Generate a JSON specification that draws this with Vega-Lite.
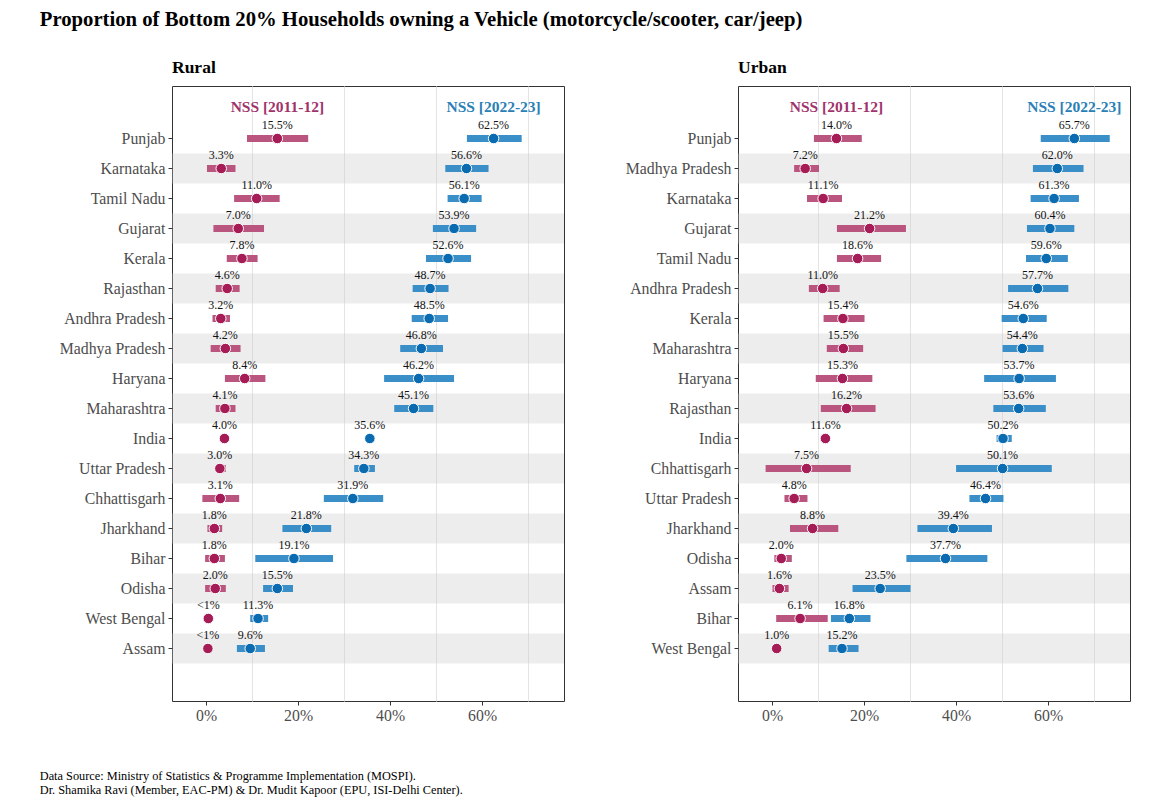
{
  "$schema": "https://vega.github.io/schema/vega-lite/v6.json",
  "padding": {"left": 39, "top": 9, "right": 0, "bottom": 0},
  "background": "white",
  "title": {"text": "Proportion of Bottom 20% Households owning a Vehicle (motorcycle/scooter, car/jeep)", "anchor": "start", "frame": "bounds", "font": "Liberation Serif", "fontSize": 20.7, "fontWeight": "bold", "color": "#000000", "offset": 27},
  "config": {
    "font": "Liberation Serif",
    "view": {"stroke": "#333333", "strokeWidth": 1},
    "axis": {"labelFont": "Liberation Serif", "titleFont": "Liberation Serif"}
  },
  "datasets": {
    "d": [
      {"area": "Rural", "state": "Punjab", "survey": "NSS [2011-12]", "est": 15.5, "lo": 8.9, "hi": 22.2, "label": "15.5%"},
      {"area": "Rural", "state": "Punjab", "survey": "NSS [2022-23]", "est": 62.5, "lo": 56.7, "hi": 68.6, "label": "62.5%"},
      {"area": "Rural", "state": "Karnataka", "survey": "NSS [2011-12]", "est": 3.3, "lo": 0.2, "hi": 6.4, "label": "3.3%"},
      {"area": "Rural", "state": "Karnataka", "survey": "NSS [2022-23]", "est": 56.6, "lo": 52.0, "hi": 61.4, "label": "56.6%"},
      {"area": "Rural", "state": "Tamil Nadu", "survey": "NSS [2011-12]", "est": 11.0, "lo": 6.1, "hi": 16.0, "label": "11.0%"},
      {"area": "Rural", "state": "Tamil Nadu", "survey": "NSS [2022-23]", "est": 56.1, "lo": 52.5, "hi": 59.9, "label": "56.1%"},
      {"area": "Rural", "state": "Gujarat", "survey": "NSS [2011-12]", "est": 7.0, "lo": 1.6, "hi": 12.6, "label": "7.0%"},
      {"area": "Rural", "state": "Gujarat", "survey": "NSS [2022-23]", "est": 53.9, "lo": 49.3, "hi": 58.7, "label": "53.9%"},
      {"area": "Rural", "state": "Kerala", "survey": "NSS [2011-12]", "est": 7.8, "lo": 4.5, "hi": 11.2, "label": "7.8%"},
      {"area": "Rural", "state": "Kerala", "survey": "NSS [2022-23]", "est": 52.6, "lo": 47.8, "hi": 57.6, "label": "52.6%"},
      {"area": "Rural", "state": "Rajasthan", "survey": "NSS [2011-12]", "est": 4.6, "lo": 2.1, "hi": 7.3, "label": "4.6%"},
      {"area": "Rural", "state": "Rajasthan", "survey": "NSS [2022-23]", "est": 48.7, "lo": 44.9, "hi": 52.7, "label": "48.7%"},
      {"area": "Rural", "state": "Andhra Pradesh", "survey": "NSS [2011-12]", "est": 3.2, "lo": 1.4, "hi": 5.2, "label": "3.2%"},
      {"area": "Rural", "state": "Andhra Pradesh", "survey": "NSS [2022-23]", "est": 48.5, "lo": 44.7, "hi": 52.6, "label": "48.5%"},
      {"area": "Rural", "state": "Madhya Pradesh", "survey": "NSS [2011-12]", "est": 4.2, "lo": 1.0, "hi": 7.5, "label": "4.2%"},
      {"area": "Rural", "state": "Madhya Pradesh", "survey": "NSS [2022-23]", "est": 46.8, "lo": 42.2, "hi": 51.5, "label": "46.8%"},
      {"area": "Rural", "state": "Haryana", "survey": "NSS [2011-12]", "est": 8.4, "lo": 4.1, "hi": 12.9, "label": "8.4%"},
      {"area": "Rural", "state": "Haryana", "survey": "NSS [2022-23]", "est": 46.2, "lo": 38.7, "hi": 53.9, "label": "46.2%"},
      {"area": "Rural", "state": "Maharashtra", "survey": "NSS [2011-12]", "est": 4.1, "lo": 2.1, "hi": 6.4, "label": "4.1%"},
      {"area": "Rural", "state": "Maharashtra", "survey": "NSS [2022-23]", "est": 45.1, "lo": 40.9, "hi": 49.4, "label": "45.1%"},
      {"area": "Rural", "state": "India", "survey": "NSS [2011-12]", "est": 4.0, "lo": null, "hi": null, "label": "4.0%"},
      {"area": "Rural", "state": "India", "survey": "NSS [2022-23]", "est": 35.6, "lo": null, "hi": null, "label": "35.6%"},
      {"area": "Rural", "state": "Uttar Pradesh", "survey": "NSS [2011-12]", "est": 3.0, "lo": 2.1, "hi": 4.3, "label": "3.0%"},
      {"area": "Rural", "state": "Uttar Pradesh", "survey": "NSS [2022-23]", "est": 34.3, "lo": 32.2, "hi": 36.7, "label": "34.3%"},
      {"area": "Rural", "state": "Chhattisgarh", "survey": "NSS [2011-12]", "est": 3.1, "lo": -0.8, "hi": 7.2, "label": "3.1%"},
      {"area": "Rural", "state": "Chhattisgarh", "survey": "NSS [2022-23]", "est": 31.9, "lo": 25.6, "hi": 38.5, "label": "31.9%"},
      {"area": "Rural", "state": "Jharkhand", "survey": "NSS [2011-12]", "est": 1.8, "lo": 0.3, "hi": 3.5, "label": "1.8%"},
      {"area": "Rural", "state": "Jharkhand", "survey": "NSS [2022-23]", "est": 21.8, "lo": 16.6, "hi": 27.2, "label": "21.8%"},
      {"area": "Rural", "state": "Bihar", "survey": "NSS [2011-12]", "est": 1.8, "lo": -0.2, "hi": 4.1, "label": "1.8%"},
      {"area": "Rural", "state": "Bihar", "survey": "NSS [2022-23]", "est": 19.1, "lo": 10.7, "hi": 27.6, "label": "19.1%"},
      {"area": "Rural", "state": "Odisha", "survey": "NSS [2011-12]", "est": 2.0, "lo": -0.2, "hi": 4.3, "label": "2.0%"},
      {"area": "Rural", "state": "Odisha", "survey": "NSS [2022-23]", "est": 15.5, "lo": 12.4, "hi": 18.9, "label": "15.5%"},
      {"area": "Rural", "state": "West Bengal", "survey": "NSS [2011-12]", "est": 0.5, "lo": null, "hi": null, "label": "<1%"},
      {"area": "Rural", "state": "West Bengal", "survey": "NSS [2022-23]", "est": 11.3, "lo": 9.6, "hi": 13.5, "label": "11.3%"},
      {"area": "Rural", "state": "Assam", "survey": "NSS [2011-12]", "est": 0.4, "lo": null, "hi": null, "label": "<1%"},
      {"area": "Rural", "state": "Assam", "survey": "NSS [2022-23]", "est": 9.6, "lo": 6.7, "hi": 12.8, "label": "9.6%"},

      {"area": "Urban", "state": "Punjab", "survey": "NSS [2011-12]", "est": 14.0, "lo": 9.1, "hi": 19.5, "label": "14.0%"},
      {"area": "Urban", "state": "Punjab", "survey": "NSS [2022-23]", "est": 65.7, "lo": 58.4, "hi": 73.4, "label": "65.7%"},
      {"area": "Urban", "state": "Madhya Pradesh", "survey": "NSS [2011-12]", "est": 7.2, "lo": 4.8, "hi": 10.2, "label": "7.2%"},
      {"area": "Urban", "state": "Madhya Pradesh", "survey": "NSS [2022-23]", "est": 62.0, "lo": 56.7, "hi": 67.7, "label": "62.0%"},
      {"area": "Urban", "state": "Karnataka", "survey": "NSS [2011-12]", "est": 11.1, "lo": 7.6, "hi": 15.2, "label": "11.1%"},
      {"area": "Urban", "state": "Karnataka", "survey": "NSS [2022-23]", "est": 61.3, "lo": 56.2, "hi": 66.7, "label": "61.3%"},
      {"area": "Urban", "state": "Gujarat", "survey": "NSS [2011-12]", "est": 21.2, "lo": 14.1, "hi": 29.1, "label": "21.2%"},
      {"area": "Urban", "state": "Gujarat", "survey": "NSS [2022-23]", "est": 60.4, "lo": 55.4, "hi": 65.7, "label": "60.4%"},
      {"area": "Urban", "state": "Tamil Nadu", "survey": "NSS [2011-12]", "est": 18.6, "lo": 14.1, "hi": 23.7, "label": "18.6%"},
      {"area": "Urban", "state": "Tamil Nadu", "survey": "NSS [2022-23]", "est": 59.6, "lo": 55.2, "hi": 64.3, "label": "59.6%"},
      {"area": "Urban", "state": "Andhra Pradesh", "survey": "NSS [2011-12]", "est": 11.0, "lo": 8.0, "hi": 14.7, "label": "11.0%"},
      {"area": "Urban", "state": "Andhra Pradesh", "survey": "NSS [2022-23]", "est": 57.7, "lo": 51.3, "hi": 64.4, "label": "57.7%"},
      {"area": "Urban", "state": "Kerala", "survey": "NSS [2011-12]", "est": 15.4, "lo": 11.2, "hi": 20.1, "label": "15.4%"},
      {"area": "Urban", "state": "Kerala", "survey": "NSS [2022-23]", "est": 54.6, "lo": 49.9, "hi": 59.7, "label": "54.6%"},
      {"area": "Urban", "state": "Maharashtra", "survey": "NSS [2011-12]", "est": 15.5, "lo": 11.9, "hi": 19.8, "label": "15.5%"},
      {"area": "Urban", "state": "Maharashtra", "survey": "NSS [2022-23]", "est": 54.4, "lo": 50.1, "hi": 59.0, "label": "54.4%"},
      {"area": "Urban", "state": "Haryana", "survey": "NSS [2011-12]", "est": 15.3, "lo": 9.5, "hi": 21.8, "label": "15.3%"},
      {"area": "Urban", "state": "Haryana", "survey": "NSS [2022-23]", "est": 53.7, "lo": 46.1, "hi": 61.7, "label": "53.7%"},
      {"area": "Urban", "state": "Rajasthan", "survey": "NSS [2011-12]", "est": 16.2, "lo": 10.6, "hi": 22.5, "label": "16.2%"},
      {"area": "Urban", "state": "Rajasthan", "survey": "NSS [2022-23]", "est": 53.6, "lo": 48.1, "hi": 59.5, "label": "53.6%"},
      {"area": "Urban", "state": "India", "survey": "NSS [2011-12]", "est": 11.6, "lo": null, "hi": null, "label": "11.6%"},
      {"area": "Urban", "state": "India", "survey": "NSS [2022-23]", "est": 50.2, "lo": 48.8, "hi": 52.1, "label": "50.2%"},
      {"area": "Urban", "state": "Chhattisgarh", "survey": "NSS [2011-12]", "est": 7.5, "lo": -1.4, "hi": 17.1, "label": "7.5%"},
      {"area": "Urban", "state": "Chhattisgarh", "survey": "NSS [2022-23]", "est": 50.1, "lo": 40.0, "hi": 60.8, "label": "50.1%"},
      {"area": "Urban", "state": "Uttar Pradesh", "survey": "NSS [2011-12]", "est": 4.8, "lo": 2.7, "hi": 7.7, "label": "4.8%"},
      {"area": "Urban", "state": "Uttar Pradesh", "survey": "NSS [2022-23]", "est": 46.4, "lo": 42.9, "hi": 50.3, "label": "46.4%"},
      {"area": "Urban", "state": "Jharkhand", "survey": "NSS [2011-12]", "est": 8.8, "lo": 3.9, "hi": 14.4, "label": "8.8%"},
      {"area": "Urban", "state": "Jharkhand", "survey": "NSS [2022-23]", "est": 39.4, "lo": 31.6, "hi": 47.8, "label": "39.4%"},
      {"area": "Urban", "state": "Odisha", "survey": "NSS [2011-12]", "est": 2.0, "lo": 0.5, "hi": 4.3, "label": "2.0%"},
      {"area": "Urban", "state": "Odisha", "survey": "NSS [2022-23]", "est": 37.7, "lo": 29.2, "hi": 46.8, "label": "37.7%"},
      {"area": "Urban", "state": "Assam", "survey": "NSS [2011-12]", "est": 1.6, "lo": 0.1, "hi": 3.6, "label": "1.6%"},
      {"area": "Urban", "state": "Assam", "survey": "NSS [2022-23]", "est": 23.5, "lo": 17.5, "hi": 30.1, "label": "23.5%"},
      {"area": "Urban", "state": "Bihar", "survey": "NSS [2011-12]", "est": 6.1, "lo": 0.9, "hi": 12.1, "label": "6.1%"},
      {"area": "Urban", "state": "Bihar", "survey": "NSS [2022-23]", "est": 16.8, "lo": 12.8, "hi": 21.4, "label": "16.8%"},
      {"area": "Urban", "state": "West Bengal", "survey": "NSS [2011-12]", "est": 1.0, "lo": null, "hi": null, "label": "1.0%"},
      {"area": "Urban", "state": "West Bengal", "survey": "NSS [2022-23]", "est": 15.2, "lo": 12.3, "hi": 18.8, "label": "15.2%"}
    ]
  },
  "vconcat": [
    {
      "title": {"text": ["Data Source: Ministry of Statistics & Programme Implementation (MOSPI).", "Dr. Shamika Ravi (Member, EAC-PM) & Dr. Mudit Kapoor (EPU, ISI-Delhi Center)."], "orient": "bottom", "anchor": "start", "frame": "bounds", "font": "Liberation Serif", "fontSize": 12.3, "fontWeight": "normal", "color": "#000000", "offset": 47, "lineHeight": 14},
      "spacing": 59,
      "resolve": {"scale": {"x": "independent", "y": "independent"}},
      "hconcat": [
        {
          "width": 392,
          "height": 615,
          "title": {"text": "Rural", "anchor": "start", "frame": "group", "font": "Liberation Serif", "fontSize": 17.5, "fontWeight": "bold", "color": "#000000", "offset": 10},
          "data": {"name": "d"},
          "transform": [{"filter": "datum.area == 'Rural'"}],
          "encoding": {
            "y": {
              "field": "state", "type": "nominal",
              "scale": {"domain": ["hdr", "Punjab", "Karnataka", "Tamil Nadu", "Gujarat", "Kerala", "Rajasthan", "Andhra Pradesh", "Madhya Pradesh", "Haryana", "Maharashtra", "India", "Uttar Pradesh", "Chhattisgarh", "Jharkhand", "Bihar", "Odisha", "West Bengal", "Assam", "pad"], "paddingInner": 0, "paddingOuter": 0.25},
              "axis": {
                "title": " ", "titleFontSize": 8, "titlePadding": 11,
                "labelExpr": "datum.value == 'hdr' || datum.value == 'pad' ? '' : datum.value",
                "tickOpacity": {"condition": {"test": "datum.value == 'hdr' || datum.value == 'pad'", "value": 0}, "value": 1},
                "grid": false, "domain": false, "tickColor": "#333333", "tickSize": 4, "tickWidth": 1,
                "labelFontSize": 15.8, "labelColor": "#4d4d4d", "labelPadding": 3
              }
            }
          },
          "layer": [
            {
              "transform": [
                {"filter": "datum.survey == 'NSS [2022-23]'"},
                {"window": [{"op": "row_number", "as": "rank"}], "sort": [{"field": "est", "order": "descending"}]},
                {"filter": "datum.rank % 2 == 0"}
              ],
              "mark": {"type": "rect", "fill": "#c8c8c8", "fillOpacity": 0.33}
            },
            {
              "transform": [{"filter": "datum.lo != null"}],
              "mark": {"type": "rule", "strokeWidth": 7, "strokeCap": "butt"},
              "encoding": {
                "x": {"field": "lo", "type": "quantitative"},
                "x2": {"field": "hi"},
                "color": {"condition": {"test": "datum.survey == 'NSS [2011-12]'", "value": "#b9557f"}, "value": "#3a8fc9"}
              }
            },
            {
              "mark": {"type": "point", "filled": true, "size": 110, "stroke": "#ffffff", "strokeWidth": 1, "opacity": 1},
              "encoding": {
                "x": {
                  "field": "est", "type": "quantitative",
                  "scale": {"domain": [-7.4, 77.8], "nice": false, "zero": false},
                  "axis": {
                    "title": null, "values": [0, 10, 20, 30, 40, 50, 60, 70],
                    "labelExpr": "datum.value % 20 == 0 ? datum.value + '%' : ''",
                    "tickOpacity": {"condition": {"test": "datum.value % 20 == 0", "value": 1}, "value": 0},
                    "gridOpacity": {"condition": {"test": "datum.value % 20 == 0", "value": 0}, "value": 1},
                    "grid": true, "gridColor": "#e4e4e4", "domain": false, "tickColor": "#333333", "tickSize": 4,
                    "labelFontSize": 15.8, "labelColor": "#4d4d4d", "labelPadding": 3
                  }
                },
                "fill": {"condition": {"test": "datum.survey == 'NSS [2011-12]'", "value": "#a51c56"}, "value": "#0a6bb0"}
              }
            },
            {
              "mark": {"type": "text", "fontSize": 12, "font": "Liberation Serif", "color": "#111111", "dy": -14, "baseline": "middle"},
              "encoding": {
                "x": {"field": "est", "type": "quantitative"},
                "text": {"field": "label"}
              }
            },
            {
              "transform": [{"filter": "datum.state == 'Punjab'"}],
              "mark": {"type": "text", "fontSize": 15.5, "fontWeight": "bold", "font": "Liberation Serif", "dy": -2, "baseline": "middle"},
              "encoding": {
                "x": {"field": "est", "type": "quantitative"},
                "y": {"datum": "hdr", "type": "nominal"},
                "text": {"field": "survey"},
                "color": {"condition": {"test": "datum.survey == 'NSS [2011-12]'", "value": "#a0336b"}, "value": "#2a80b6"}
              }
            }
          ]
        },
        {
          "width": 392,
          "height": 615,
          "title": {"text": "Urban", "anchor": "start", "frame": "group", "font": "Liberation Serif", "fontSize": 17.5, "fontWeight": "bold", "color": "#000000", "offset": 10},
          "data": {"name": "d"},
          "transform": [{"filter": "datum.area == 'Urban'"}],
          "encoding": {
            "y": {
              "field": "state", "type": "nominal",
              "scale": {"domain": ["hdr", "Punjab", "Madhya Pradesh", "Karnataka", "Gujarat", "Tamil Nadu", "Andhra Pradesh", "Kerala", "Maharashtra", "Haryana", "Rajasthan", "India", "Chhattisgarh", "Uttar Pradesh", "Jharkhand", "Odisha", "Assam", "Bihar", "West Bengal", "pad"], "paddingInner": 0, "paddingOuter": 0.25},
              "axis": {
                "title": null,
                "labelExpr": "datum.value == 'hdr' || datum.value == 'pad' ? '' : datum.value",
                "tickOpacity": {"condition": {"test": "datum.value == 'hdr' || datum.value == 'pad'", "value": 0}, "value": 1},
                "grid": false, "domain": false, "tickColor": "#333333", "tickSize": 4, "tickWidth": 1,
                "labelFontSize": 15.8, "labelColor": "#4d4d4d", "labelPadding": 3
              }
            }
          },
          "layer": [
            {
              "transform": [
                {"filter": "datum.survey == 'NSS [2022-23]'"},
                {"window": [{"op": "row_number", "as": "rank"}], "sort": [{"field": "est", "order": "descending"}]},
                {"filter": "datum.rank % 2 == 0"}
              ],
              "mark": {"type": "rect", "fill": "#c8c8c8", "fillOpacity": 0.33}
            },
            {
              "transform": [{"filter": "datum.lo != null"}],
              "mark": {"type": "rule", "strokeWidth": 7, "strokeCap": "butt"},
              "encoding": {
                "x": {"field": "lo", "type": "quantitative"},
                "x2": {"field": "hi"},
                "color": {"condition": {"test": "datum.survey == 'NSS [2011-12]'", "value": "#b9557f"}, "value": "#3a8fc9"}
              }
            },
            {
              "mark": {"type": "point", "filled": true, "size": 110, "stroke": "#ffffff", "strokeWidth": 1, "opacity": 1},
              "encoding": {
                "x": {
                  "field": "est", "type": "quantitative",
                  "scale": {"domain": [-7.4, 77.8], "nice": false, "zero": false},
                  "axis": {
                    "title": null, "values": [0, 10, 20, 30, 40, 50, 60, 70],
                    "labelExpr": "datum.value % 20 == 0 ? datum.value + '%' : ''",
                    "tickOpacity": {"condition": {"test": "datum.value % 20 == 0", "value": 1}, "value": 0},
                    "gridOpacity": {"condition": {"test": "datum.value % 20 == 0", "value": 0}, "value": 1},
                    "grid": true, "gridColor": "#e4e4e4", "domain": false, "tickColor": "#333333", "tickSize": 4,
                    "labelFontSize": 15.8, "labelColor": "#4d4d4d", "labelPadding": 3
                  }
                },
                "fill": {"condition": {"test": "datum.survey == 'NSS [2011-12]'", "value": "#a51c56"}, "value": "#0a6bb0"}
              }
            },
            {
              "mark": {"type": "text", "fontSize": 12, "font": "Liberation Serif", "color": "#111111", "dy": -14, "baseline": "middle"},
              "encoding": {
                "x": {"field": "est", "type": "quantitative"},
                "text": {"field": "label"}
              }
            },
            {
              "transform": [{"filter": "datum.state == 'Punjab'"}],
              "mark": {"type": "text", "fontSize": 15.5, "fontWeight": "bold", "font": "Liberation Serif", "dy": -2, "baseline": "middle"},
              "encoding": {
                "x": {"field": "est", "type": "quantitative"},
                "y": {"datum": "hdr", "type": "nominal"},
                "text": {"field": "survey"},
                "color": {"condition": {"test": "datum.survey == 'NSS [2011-12]'", "value": "#a0336b"}, "value": "#2a80b6"}
              }
            }
          ]
        }
      ]
    }
  ]
}
